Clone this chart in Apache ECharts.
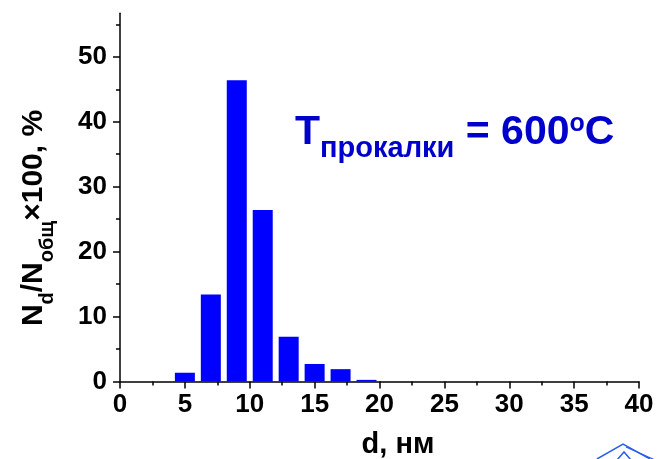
<!DOCTYPE html>
<html><head><meta charset="utf-8">
<script src="https://cdn.jsdelivr.net/npm/echarts@6.0.0/dist/echarts.min.js"></script>
<style>html,body{margin:0;padding:0;background:#fff}#c{width:657px;height:459px}</style>
</head><body><div id="c"></div>
<script>
// Data
const binCenters = [5, 7, 9, 11, 13, 15, 17, 19];
const fractions = [1.35, 13.4, 46.4, 26.4, 6.9, 2.7, 1.9, 0.25];
const yTickValues = [0, 10, 20, 30, 40, 50];
const yMinorValues = [5, 15, 25, 35, 45, 55];
const xTitle = 'd, нм';
const yTitleParts = ['N', 'd', '/N', 'общ', '×100, %'];
const noteParts = ['T', 'прокалки', ' = 600', 'o', 'C'];

const FONT = '"Liberation Sans", Arial, sans-serif';
const chart = echarts.init(document.getElementById('c'), null, {renderer: 'canvas'});
const axisCommon = {
  axisLine: {show: true, lineStyle: {color: '#000', width: 1.5}},
  splitLine: {show: false},
};
chart.setOption({
  animation: false,
  backgroundColor: '#fff',
  grid: {left: 120, right: 18, top: 13.3, bottom: 77.5, containLabel: false, outerBoundsMode: 'none'},
  xAxis: Object.assign({}, axisCommon, {
    type: 'value', min: 0, max: 40, interval: 5,
    axisTick: {show: true, length: 7, lineStyle: {color: '#000', width: 1.5}},
    minorTick: {show: true, splitNumber: 2, length: 4, lineStyle: {color: '#000', width: 1.5}},
    minorSplitLine: {show: false},
    axisLabel: {fontSize: 26, fontWeight: 'bold', color: '#000', fontFamily: FONT, margin: 10}
  }),
  yAxis: [
    Object.assign({}, axisCommon, {
      type: 'value', min: 0, max: 56.7, position: 'left',
      axisTick: {show: true, length: 7, customValues: yTickValues, lineStyle: {color: '#000', width: 1.5}},
      axisLabel: {customValues: yTickValues, fontSize: 26, fontWeight: 'bold', color: '#000', fontFamily: FONT, margin: 13}
    }),
    {
      type: 'value', min: 0, max: 56.7, position: 'left', offset: 0,
      axisLine: {show: false}, splitLine: {show: false},
      axisLabel: {show: false},
      axisTick: {show: true, length: 4, customValues: yMinorValues, lineStyle: {color: '#000', width: 1.5}}
    }
  ],
  series: [{
    type: 'bar', yAxisIndex: 0, barWidth: 20,
    itemStyle: {color: '#0000ff'},
    data: binCenters.map((x, i) => [x, fractions[i]])
  }],
  graphic: [
    {
      type: 'text', x: 398, y: 445,
      style: {text: xTitle, font: 'bold 29px ' + FONT, fill: '#000', align: 'center', verticalAlign: 'middle'}
    },
    {
      type: 'text', x: 38, y: 218, rotation: Math.PI / 2,
      style: {
        text: '{m|' + yTitleParts[0] + '}{s|' + yTitleParts[1] + '}{m|' + yTitleParts[2] + '}{s|' + yTitleParts[3] + '}{m|' + yTitleParts[4] + '}',
        align: 'center', verticalAlign: 'middle', fill: '#000',
        rich: {
          m: {fontSize: 30, fontWeight: 'bold', fontFamily: FONT, fill: '#000', verticalAlign: 'bottom', padding: [0, 0, 8, 0]},
          s: {fontSize: 20, fontWeight: 'bold', fontFamily: FONT, fill: '#000', verticalAlign: 'bottom'}
        }
      }
    },
    {
      type: 'text', x: 295, y: 163,
      style: {
        text: '{m|' + noteParts[0] + '}{s|' + noteParts[1] + '}{m|' + noteParts[2] + '}{p|' + noteParts[3] + '}{m|' + noteParts[4] + '}',
        align: 'left', verticalAlign: 'bottom', fill: '#0000cc',
        rich: {
          m: {fontSize: 41, fontWeight: 'bold', fontFamily: FONT, fill: '#0000cc', verticalAlign: 'bottom', padding: [0, 0, 10, 0]},
          s: {fontSize: 29, fontWeight: 'bold', fontFamily: FONT, fill: '#0000cc', verticalAlign: 'bottom'},
          p: {fontSize: 25, fontWeight: 'bold', fontFamily: FONT, fill: '#0000cc', verticalAlign: 'bottom', padding: [0, 0, 26, 0]}
        }
      }
    },
    {
      type: 'polyline', shape: {points: [[597, 459], [623, 444], [650, 459]]},
      style: {stroke: '#2a5cf0', lineWidth: 1.5, fill: null}
    },
    {
      type: 'polyline', shape: {points: [[626, 447], [655, 460]]},
      style: {stroke: '#2a5cf0', lineWidth: 1.2, fill: null}
    },
    {
      type: 'polyline', shape: {points: [[617, 460], [624, 452], [631, 460]]},
      style: {stroke: '#2a5cf0', lineWidth: 1.5, fill: null}
    }
  ]
});
</script>
</body></html>
